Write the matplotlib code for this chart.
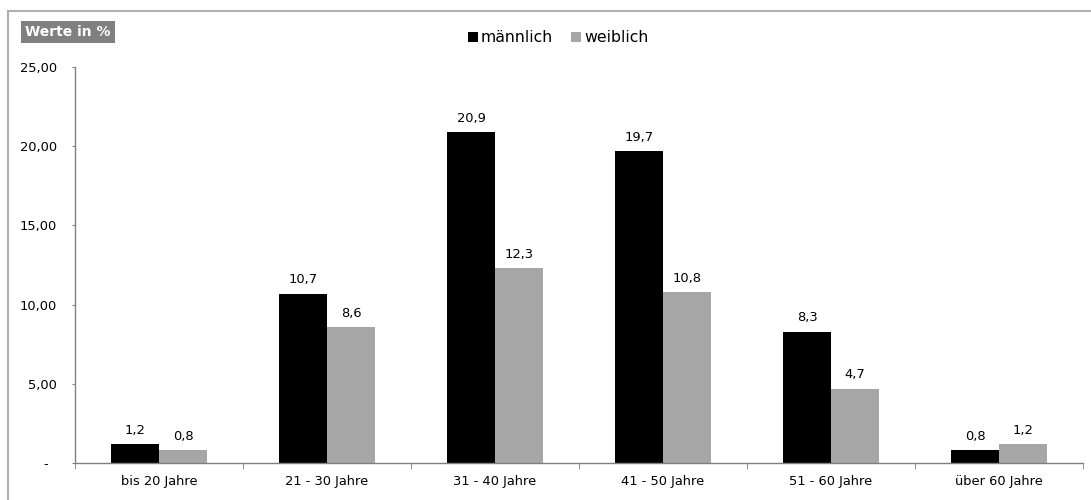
import numpy as np
import matplotlib.pyplot as plt
from matplotlib.lines import Line2D
from matplotlib.ticker import FuncFormatter

categories = ["bis 20 Jahre", "21 - 30 Jahre", "31 - 40 Jahre",
              "41 - 50 Jahre", "51 - 60 Jahre", "über 60 Jahre"]
maennlich = [1.2, 10.7, 20.9, 19.7, 8.3, 0.8]
weiblich = [0.8, 8.6, 12.3, 10.8, 4.7, 1.2]

plt.rcParams["font.family"] = ["DejaVu Sans"]
fs = 9.4

fig = plt.figure(figsize=(10.91, 5.0), dpi=100)
ax = fig.add_axes([75 / 1091, 37 / 500, 1008 / 1091, 396 / 500])

x = np.arange(len(categories))
w = 0.286
b1 = ax.bar(x - w / 2, maennlich, w, color="black", label="männlich")
b2 = ax.bar(x + w / 2, weiblich, w, color="#a6a6a6", label="weiblich")

def fmt(v):
    return f"{v:.1f}".replace(".", ",")

for bars, vals in ((b1, maennlich), (b2, weiblich)):
    for r, v in zip(bars, vals):
        ax.text(r.get_x() + r.get_width() / 2, v + 0.45, fmt(v),
                ha="center", va="bottom", fontsize=fs)

ax.set_xlim(-0.5, len(categories) - 0.5)
ax.set_ylim(0, 25)
ax.set_yticks(np.arange(0, 26, 5))
# zero is shown as a dash, the rest with two decimals and a comma
ax.yaxis.set_major_formatter(FuncFormatter(
    lambda v, p: "-  " if v == 0 else f"{v:.2f}".replace(".", ",")))
ax.set_xticks(x)
ax.set_xticklabels(categories)
ax.set_xticks(np.arange(-0.5, len(categories)), minor=True)
ax.tick_params(axis="x", which="major", length=0, pad=9, labelsize=fs)
ax.tick_params(axis="x", which="minor", length=4, color="#808080", direction="out")
ax.tick_params(axis="y", length=2, color="#808080", pad=11, labelsize=fs)

for s in ("top", "right"):
    ax.spines[s].set_visible(False)
for s in ("left", "bottom"):
    ax.spines[s].set_color("#808080")
    ax.spines[s].set_linewidth(1.0)

# legend at the top centre
fig.legend(handles=[b1, b2], loc="center", bbox_to_anchor=(558 / 1091, 1 - 38 / 500),
           ncol=2, frameon=False, fontsize=11.3, handlelength=0.65, handleheight=0.65,
           handletextpad=0.2, columnspacing=1.1)

# label box in the upper left corner
fig.text(25 / 1091, 1 - 32 / 500, "Werte in %", color="white", fontweight="bold",
         fontsize=10, va="center", ha="left",
         bbox=dict(boxstyle="square,pad=0.3", fc="#808080", ec="none"))

# frame lines around the chart area
fig.add_artist(Line2D([8 / 1091, 1], [1 - 11 / 500, 1 - 11 / 500],
                      color="#b0b0b0", lw=1.5))
fig.add_artist(Line2D([8 / 1091, 8 / 1091], [0, 1 - 11 / 500],
                      color="#b0b0b0", lw=1.5))

fig.savefig("out.png", dpi=100)
